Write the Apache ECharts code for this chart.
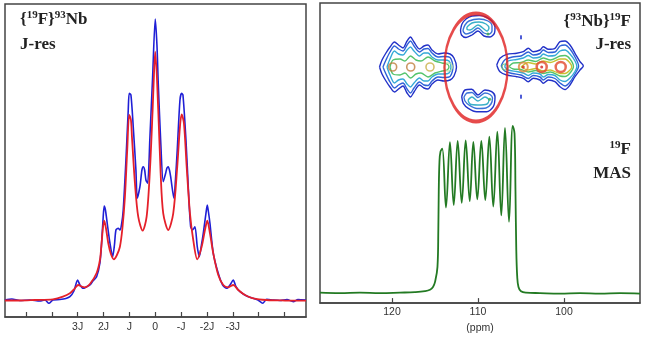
<!DOCTYPE html>
<html>
<head>
<meta charset="utf-8">
<script src="https://cdn.jsdelivr.net/npm/echarts@6/dist/echarts.min.js"></script>
<style>
  html, body { margin: 0; padding: 0; background: #fff; }
  #main { width: 646px; height: 339px; }
</style>
</head>
<body>
<div id="main"></div>
<script>
// left panel: {19F}93Nb J-resolved slice, x in units of J
var jTicks = [5, 4, 3, 2, 1, 0, -1, -2, -3, -4, -5];
var jLabelValues = [3, 2, 1, 0, -1, -2, -3];
var jLabels = ['3J', '2J', 'J', '0', '-J', '-2J', '-3J'];

var blueJ = [5.814, 5.544, 5.234, 4.847, 4.460, 4.267, 4.112, 3.957, 3.687, 3.455, 3.300, 3.145, 3.002, 2.913, 2.785, 2.654, 2.526, 2.410, 2.267, 2.139, 2.074, 2.012, 1.973, 1.926, 1.857, 1.752, 1.648, 1.578, 1.520, 1.431, 1.366, 1.300, 1.238, 1.133, 1.044, 1.006, 0.940, 0.851, 0.747, 0.696, 0.592, 0.515, 0.464, 0.410, 0.360, 0.294, 0.205, 0.101, 0,
  -0.066, -0.116, -0.209, -0.309, -0.402, -0.453, -0.503, -0.549, -0.596, -0.723, -0.781, -0.851, -0.956, -1.021, -1.072, -1.188, -1.277, -1.369, -1.447, -1.536, -1.625, -1.702, -1.787, -1.857, -1.961, -2.012, -2.058, -2.116, -2.244, -2.437, -2.607, -2.762, -2.890, -3.017, -3.122, -3.277, -3.536, -3.791, -3.973, -4.155, -4.309, -4.553, -4.824, -5.095, -5.338, -5.520, -5.830];
var blueI = [0.5, 1.5, 0, 0.5, -0.5, 0.5, -2.8, 0.5, 1, 2, 3.8, 9.5, 20.5, 15.5, 12.2, 13.8, 15.5, 19.5, 23.8, 37.5, 57.5, 83.8, 94.5, 90.5, 77.2, 57.5, 43.8, 55.5, 70.5, 72.2, 70.5, 76.5, 90.5, 140.5, 190.5, 207.2, 205.5, 173.8, 130.5, 102.2, 113.8, 130.5, 133.8, 130.5, 120.5, 117.2, 163.8, 223.8, 281.5,
  255.5, 217.2, 160.5, 118.8, 127.2, 132.5, 133.8, 130.5, 123.8, 102.2, 120.5, 150.5, 200.5, 207.2, 205.5, 160.5, 113.8, 73.8, 70.5, 73.8, 53.8, 43.8, 55.5, 67.2, 87.2, 95.5, 88.5, 77.2, 47.2, 27.2, 15.5, 12.2, 15.5, 20.5, 13.8, 8.8, 4.5, 2.2, 0.5, -2.8, 1.2, 0.5, 0, 1, -1.2, 1, 0.5];

var redJ = [5.814, 5.234, 4.654, 3.957, 3.571, 3.300, 3.106, 2.979, 2.847, 2.720, 2.526, 2.267, 2.139, 2.074, 2.023, 1.973, 1.907, 1.818, 1.714, 1.598, 1.482, 1.366, 1.269, 1.172, 1.083, 1.006, 0.940, 0.901, 0.785, 0.658, 0.487, 0.333, 0.205, 0.101, 0.050, 0,
  -0.116, -0.209, -0.309, -0.503, -0.696, -0.851, -0.956, -1.021, -1.110, -1.215, -1.342, -1.470, -1.625, -1.795, -1.923, -2.012, -2.116, -2.244, -2.437, -2.631, -2.824, -3.017, -3.211, -3.470, -3.791, -4.309, -5.017, -5.830];
var redI = [0, 0, 0.5, 1.2, 3.8, 7.2, 12.2, 15.5, 14, 13.2, 16.5, 27.5, 40.5, 57.5, 72.5, 79.8, 72.5, 57.5, 46.5, 41.2, 45.5, 53.8, 72.5, 103.8, 150.5, 185.5, 180.5, 163.8, 117.2, 83.8, 69.8, 83.8, 130.5, 190.5, 225.5, 248.8,
  190.5, 127.2, 87.2, 70.5, 87.2, 133.8, 173.8, 186.2, 177.2, 133.8, 87.2, 60.5, 41.2, 53.8, 70.5, 79.8, 67.2, 47.2, 25.5, 15.5, 13.2, 15.5, 10.5, 5.5, 2.2, 0.5, 0, -0.2];

// right panel: 19F MAS spectrum, ppm
var ppmTicks = [120, 110, 100];
var masPpm = [128.37, 126.05, 123.72, 121.40, 119.07, 117.33, 116.16, 115.58, 115.23, 115.0, 114.71, 114.61, 114.56, 114.48, 114.36, 114.15,
  113.72, 113.26, 112.82, 112.36, 111.89, 111.43, 110.96, 110.54, 110.08, 109.61, 109.15, 108.68, 108.22, 107.75, 107.29, 106.86, 106.39, 105.96,
  105.75, 105.64, 105.55, 105.44, 105.29, 105.0, 104.42, 102.79, 100.46, 98.14, 95.81, 93.49, 91.16];
var masInt = [1, 0.5, 1, 0.5, 1, 1.5, 2.5, 4, 7, 12, 28, 68, 108, 138, 149, 152,
  90.3, 159, 93, 160.3, 95.3, 160.7, 97, 159.3, 99, 160.3, 98, 164.7, 91.3, 170, 82, 174, 75.3, 176,
  168, 108, 48, 18, 7, 2.5, 1, 0.5, 0, 0.5, 0, 0.5, 0];

// {93Nb}19F J-res contours: [ppm, F1]
var leftBlob1 = [[121.45,0],[121.16,7],[120.70,14],[120.23,20],[119.71,25],[119.24,22],[118.72,19],[118.25,26],[117.85,30],[117.44,25],[116.80,18],[116.28,21],[115.81,22],[115.35,17],[114.65,13],[113.95,14],[113.25,13],[112.79,9],[112.50,0],[112.79,-9],[113.25,-13],[113.95,-14],[114.65,-13],[115.35,-17],[115.81,-22],[116.28,-21],[116.80,-18],[117.44,-25],[117.85,-30],[118.25,-26],[118.72,-19],[119.24,-22],[119.71,-25],[120.23,-20],[120.70,-14],[121.16,-7],[121.45,0]];
var leftBlob2 = [[121.05,0],[120.70,7],[120.23,15],[119.71,21],[119.24,18],[118.72,16],[118.25,22],[117.85,26],[117.44,21],[116.80,15],[116.28,18],[115.81,18.5],[115.35,14],[114.65,10],[113.95,10.5],[113.25,9.5],[112.91,0],[113.25,-9.5],[113.95,-10.5],[114.65,-10],[115.35,-14],[115.81,-18.5],[116.28,-18],[116.80,-15],[117.44,-21],[117.85,-26],[118.25,-22],[118.72,-16],[119.24,-18],[119.71,-21],[120.23,-15],[120.70,-7],[121.05,0]];
var leftBlob3 = [[120.58,0],[120.23,8],[119.71,16],[119.24,13],[118.72,12],[118.25,17],[117.85,20],[117.44,16],[116.80,11],[116.28,14],[115.81,14],[115.35,10],[114.65,7],[113.95,7],[113.37,6],[113.14,0],[113.37,-6],[113.95,-7],[114.65,-7],[115.35,-10],[115.81,-14],[116.28,-14],[116.80,-11],[117.44,-16],[117.85,-20],[118.25,-17],[118.72,-12],[119.24,-13],[119.71,-16],[120.23,-8],[120.58,0]];
var leftBlob4 = [[120.23,0],[119.88,7],[119.07,8],[118.49,6],[117.85,11],[117.21,7],[116.63,6],[115.81,10],[115.0,6],[114.18,4],[113.60,3],[113.37,0],[113.60,-3],[114.18,-4],[115.0,-6],[115.81,-10],[116.63,-6],[117.21,-7],[117.85,-11],[118.49,-6],[119.07,-8],[119.88,-7],[120.23,0]];

var rightBlob1 = [[107.82,2],[107.44,8.7],[106.66,12.7],[105.50,13.7],[104.73,15.3],[104.15,18.7],[103.57,15.3],[102.79,17],[102.41,20.3],[101.82,17.7],[101.05,18.7],[100.46,25.3],[99.88,26],[99.30,22],[98.72,13.7],[98.14,5.3],[97.75,1],[98.14,-3],[98.72,-9.7],[99.30,-18],[99.88,-22.5],[100.46,-19.7],[101.05,-14.7],[101.82,-13],[102.41,-16.3],[102.79,-13],[103.57,-11.3],[104.15,-14.7],[104.73,-11.3],[105.50,-9.7],[106.66,-8],[107.44,-4.7],[107.82,2]];
var rightBlob2 = [[107.3,1],[106.9,7],[106.0,10],[105.0,11],[104.15,15],[103.57,12],[102.79,13.5],[102.41,17],[101.82,14.5],[101.05,15],[100.46,21],[99.88,22],[99.30,18],[98.72,10],[98.3,1],[98.72,-7],[99.30,-15],[99.88,-19],[100.46,-16],[101.05,-11.5],[101.82,-10],[102.41,-13],[102.79,-10],[103.57,-8.5],[104.15,-11.5],[105.0,-8],[106.0,-6.5],[106.9,-4],[107.3,1]];
var rightBlob3 = [[106.9,0.5],[106.5,6],[105.5,7.5],[104.73,9],[104.15,11.5],[103.57,9],[102.79,10],[102.41,13],[101.82,11],[101.05,11.5],[100.46,16],[99.88,17],[99.30,13],[98.72,6],[98.5,0.5],[98.72,-4.5],[99.30,-11],[99.88,-14.5],[100.46,-13],[101.05,-8.5],[101.82,-7.5],[102.41,-10],[102.79,-7],[103.57,-6],[104.15,-8.5],[104.73,-6],[105.5,-4.5],[106.5,-3],[106.9,0.5]];
var rightBlob4 = [[106.4,0.5],[105.9,4],[105.0,4.5],[104.15,7],[103.3,5.5],[102.41,9],[101.6,7],[100.46,11],[99.88,11.5],[99.30,8],[98.9,0.5],[99.30,-6],[99.88,-9.5],[100.46,-9],[101.6,-5],[102.41,-6.5],[103.3,-3.5],[104.15,-5],[105.0,-2.5],[105.9,-2],[106.4,0.5]];
var rightBlob5 = [[105.0,0],[104.15,4.5],[103.3,3],[102.41,6],[101.6,4.5],[100.46,8],[99.88,8],[99.3,4],[99.1,0],[99.3,-3],[99.88,-6.5],[100.46,-6.5],[101.6,-3],[102.41,-4],[103.3,-1.5],[104.15,-3],[105.0,0]];

var topCres1 = [[112.03,37],[111.86,43],[111.39,48],[110.70,51],[109.88,51.5],[109.07,50],[108.37,46],[108.02,40],[108.08,34],[108.60,30],[109.30,31],[110.0,36],[110.70,32],[111.39,29.5],[111.92,32],[112.03,37]];
var topCres2 = [[111.74,37],[111.51,42],[111.05,46],[109.88,48],[108.84,46],[108.37,41],[108.37,36],[108.72,33],[109.30,34],[110.0,39],[110.70,35],[111.39,33],[111.68,35],[111.74,37]];
var topCres3 = [[111.28,40],[110.70,44],[109.88,45],[109.07,43],[108.72,39],[108.95,36],[110.0,42],[110.93,37],[111.28,38],[111.28,40]];
var botCres1 = [[111.89,-29.7],[111.51,-23],[110.73,-22.3],[110.0,-28],[109.19,-23],[108.41,-24.7],[108.02,-29.7],[108.22,-39.7],[109.0,-44.7],[110.15,-44.7],[111.12,-41.3],[111.71,-36.3],[111.89,-29.7]];
var botCres2 = [[111.63,-30],[111.28,-26],[110.70,-25.5],[110.0,-30.5],[109.19,-26],[108.60,-27.5],[108.31,-31],[108.49,-37],[109.07,-41],[110.12,-41.5],[111.05,-38],[111.51,-34],[111.63,-30]];
var botCres3 = [[111.16,-33],[110.70,-30],[110.0,-34],[109.19,-30],[108.72,-33],[108.95,-37],[110.0,-38],[110.93,-37],[111.16,-33]];

var ringsBrown = [[119.92,0],[117.82,0]];
var ringsYellow = [[115.58,0]];
var ringsPale = [[113.45,0]];
var ringsGreen = [[106.86,0]];
var ringsOrange = [[104.73,0]];
var ringsRed = [[102.59,0],[100.38,0]];
var peakDots = [[104.73,0],[102.59,0]];
var crescentDots = [[108.84,33],[108.64,-32.3]];
var blueDots = [[105.0,29.7],[105.0,-29.7]];
var ellipseCenter = [[110.23,-0.5]];

function zip(xs, ys) {
  var out = [];
  for (var i = 0; i < xs.length; i++) out.push([xs[i], ys[i]]);
  return out;
}

var chart = echarts.init(document.getElementById('main'), null, { renderer: 'canvas' });

var serif = 'Liberation Serif';
var sans = 'Liberation Sans';
var supStyle = { fontFamily: serif, fontWeight: 'bold', fontSize: 11, color: '#222', verticalAlign: 'top', lineHeight: 12 };
function titleItem(text, pos) {
  var t = {
    text: text,
    padding: 0,
    itemGap: 0,
    textStyle: {
      fontFamily: serif, fontWeight: 'bold', fontSize: 17, color: '#222', lineHeight: 20,
      rich: { s: supStyle }
    }
  };
  for (var k in pos) t[k] = pos[k];
  return t;
}

// contour line levels
var contours = [
  { d: leftBlob1, c: '#2231c8' }, { d: leftBlob2, c: '#2f62d8' }, { d: leftBlob3, c: '#34a9d6' }, { d: leftBlob4, c: '#55c46c' },
  { d: rightBlob1, c: '#2231c8' }, { d: rightBlob2, c: '#2f62d8' }, { d: rightBlob3, c: '#34a9d6' }, { d: rightBlob4, c: '#55c46c' }, { d: rightBlob5, c: '#c9c232' },
  { d: topCres1, c: '#2231c8' }, { d: topCres2, c: '#3a72d8' }, { d: topCres3, c: '#3ab0c8' },
  { d: botCres1, c: '#2231c8' }, { d: botCres2, c: '#3a72d8' }, { d: botCres3, c: '#3ab0c8' }
];

var series = [
  { type: 'line', xAxisIndex: 0, yAxisIndex: 0, data: zip(blueJ, blueI), showSymbol: false, smooth: 0.25,
    lineStyle: { color: '#1f1fd6', width: 1.6 }, z: 3 },
  { type: 'line', xAxisIndex: 0, yAxisIndex: 0, data: zip(redJ, redI), showSymbol: false, smooth: 0.3,
    lineStyle: { color: '#e5202a', width: 1.8 }, z: 4 },
  { type: 'line', xAxisIndex: 1, yAxisIndex: 1, data: zip(masPpm, masInt), showSymbol: false, smooth: 0.4,
    lineStyle: { color: '#237a23', width: 1.8 }, z: 3 }
];
contours.forEach(function (ct) {
  series.push({ type: 'line', xAxisIndex: 2, yAxisIndex: 2, data: ct.d, showSymbol: false, smooth: 0.3,
    lineStyle: { color: ct.c, width: 1.4 }, z: 3 });
});
function ring(data, color, size, width, fill) {
  return { type: 'scatter', xAxisIndex: 2, yAxisIndex: 2, data: data, symbol: 'circle', symbolSize: size,
    itemStyle: { color: fill || 'rgba(0,0,0,0)', borderColor: color, borderWidth: width }, z: 5 };
}
series.push(ring(ringsBrown, '#bf7d3c', 8, 1.6));
series.push(ring(ringsYellow, '#c9b048', 8, 1.6));
series.push(ring(ringsPale, '#b9e3a8', 8, 1.6));
series.push(ring(ringsGreen, '#6cc06c', 6, 1.2));
series.push(ring(ringsOrange, '#e0883a', 9, 2));
series.push(ring(ringsRed, '#e2482c', 10, 2.5));
series.push(ring(peakDots, '#d42020', 3, 0, '#d42020'));
series.push(ring(crescentDots, '#3cae4a', 3, 0, '#3cae4a'));
series.push({ type: 'scatter', xAxisIndex: 2, yAxisIndex: 2, data: blueDots, symbol: 'rect', symbolSize: [2, 4],
  itemStyle: { color: '#2233cc' }, z: 5 });
series.push({ type: 'scatter', xAxisIndex: 2, yAxisIndex: 2, data: ellipseCenter, symbol: 'circle', symbolSize: [63, 108],
  itemStyle: { color: 'rgba(0,0,0,0)', borderColor: '#e01e1e', borderWidth: 3 }, z: 6 });

var option = {
  animation: false,
  backgroundColor: '#fff',
  title: [
    titleItem('{{s|19}F}{s|93}Nb', { left: 20, top: 10 }),
    titleItem('J-res', { left: 20, top: 35 }),
    titleItem('{{s|93}Nb}{s|19}F', { right: 15, top: 12 }),
    titleItem('J-res', { right: 15, top: 35 }),
    titleItem('{s|19}F', { right: 15, top: 140 }),
    titleItem('MAS', { right: 15, top: 164 })
  ],
  grid: [
    { left: 5, right: 340, top: 4, bottom: 22, show: true, borderColor: '#444', borderWidth: 1.5, backgroundColor: '#fff' },
    { left: 320, right: 6, top: 3, bottom: 21, show: true, borderColor: '#444', borderWidth: 1.5, backgroundColor: '#fff' },
    { left: 320, right: 6, top: 3, height: 128, show: false }
  ],
  xAxis: [
    { type: 'value', gridIndex: 0, min: -5.83, max: 5.81, inverse: true,
      axisLine: { show: true, onZero: false, lineStyle: { color: '#444', width: 1.5 } },
      axisTick: { show: true, inside: true, length: 5, customValues: jTicks, lineStyle: { color: '#444', width: 1.2 } },
      axisLabel: { customValues: jLabelValues, margin: 5, fontFamily: sans, fontSize: 10.5, color: '#333',
        formatter: function (v) { return jLabels[jLabelValues.indexOf(v)]; } },
      splitLine: { show: false } },
    { type: 'value', gridIndex: 1, min: 91.16, max: 128.37, inverse: true,
      name: '(ppm)', nameLocation: 'middle', nameGap: 13,
      nameTextStyle: { fontFamily: sans, fontSize: 10.5, color: '#333' },
      axisLine: { show: true, onZero: false, lineStyle: { color: '#444', width: 1.5 } },
      axisTick: { show: true, inside: true, length: 5, customValues: ppmTicks, lineStyle: { color: '#444', width: 1.2 } },
      axisLabel: { customValues: ppmTicks, margin: 4, fontFamily: sans, fontSize: 10.5, color: '#333' },
      splitLine: { show: false } },
    { type: 'value', gridIndex: 2, min: 91.16, max: 128.37, inverse: true, show: false }
  ],
  yAxis: [
    { type: 'value', gridIndex: 0, min: -16.5, max: 296.5, show: false },
    { type: 'value', gridIndex: 1, min: -10, max: 305, show: false },
    { type: 'value', gridIndex: 2, min: -64, max: 64, show: false }
  ],
  series: series
};

chart.setOption(option);
</script>
</body>
</html>
